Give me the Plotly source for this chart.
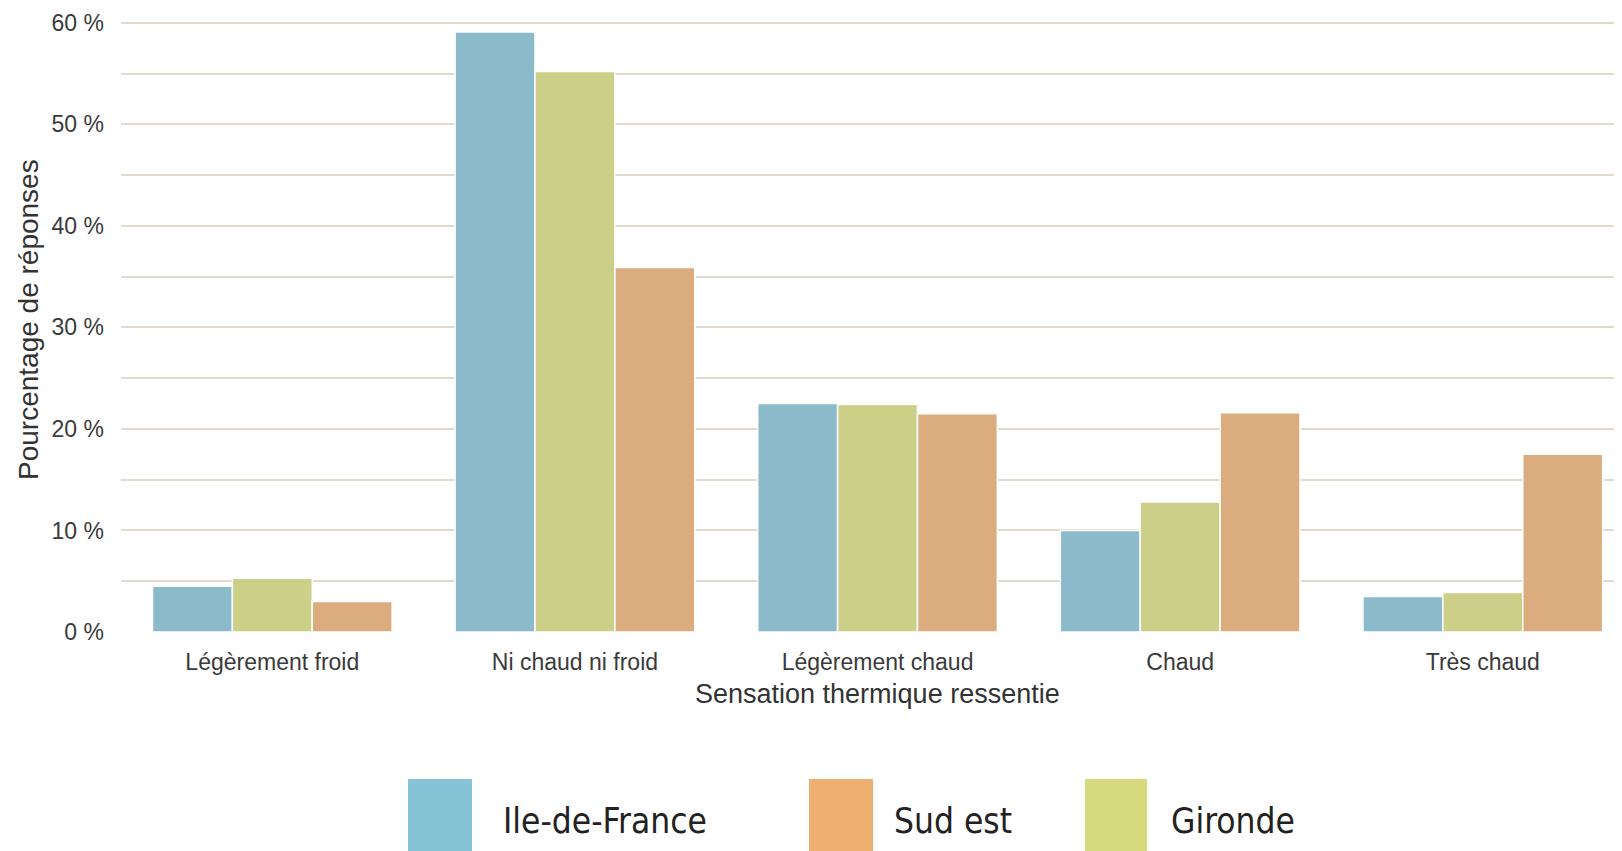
import plotly.graph_objects as go

categories = ["Légèrement froid", "Ni chaud ni froid", "Légèrement chaud", "Chaud", "Très chaud"]
ile_de_france = [4.5, 59.1, 22.5, 10.0, 3.5]
gironde = [5.3, 55.2, 22.4, 12.8, 3.9]
sud_est = [3.0, 35.9, 21.5, 21.6, 17.5]
y_ticks = [0, 10, 20, 30, 40, 50, 60]
y_tick_labels = ["0 %", "10 %", "20 %", "30 %", "40 %", "50 %", "60 %"]

BAR_COLORS = {"Ile-de-France": "#8bbbca", "Gironde": "#cbcf88", "Sud est": "#dbad7e"}
LEGEND_COLORS = {"Ile-de-France": "#84c4d6", "Sud est": "#ecaf6f", "Gironde": "#d6da7d"}

OFF = 8  # page body margin
W, H = 1622 - OFF, 851 - OFF
# plot area in screen pixels (reference)
L, R, T, B = 121, 1622, 20, 632
YMAX = 60 * (B - T) / (B - 22.8)


def px(x):
    return (x - L) / (R - L)


def py(y):
    return (B - y) / (B - T)


fig = go.Figure()
for name, vals in [("Ile-de-France", ile_de_france), ("Gironde", gironde), ("Sud est", sud_est)]:
    fig.add_trace(go.Bar(
        x=categories, y=vals, name=name,
        marker=dict(color=BAR_COLORS[name], line=dict(color="white", width=1.5)),
        showlegend=False,
    ))

tick_font = dict(family="Liberation Sans, Arial", size=23, color="#3a3a3a")
xtitle_font = dict(family="Liberation Sans, Arial", size=27, color="#333333")
ytitle_font = dict(family="Liberation Sans, Arial", size=28, color="#333333")

fig.update_layout(
    width=W, height=H,
    margin=dict(l=L - OFF, r=(W + OFF) - R, t=T - OFF, b=(H + OFF) - B, autoexpand=False),
    paper_bgcolor="white", plot_bgcolor="white",
    barmode="group", bargap=0.208, bargroupgap=0,
    xaxis=dict(
        range=[-0.5, 4.46], showgrid=False, zeroline=False, showline=False,
        ticks="", tickfont=tick_font, ticklabelstandoff=14, automargin=False,
    ),
    yaxis=dict(
        range=[0, YMAX], tickvals=y_ticks, ticktext=y_tick_labels,
        showgrid=True, gridcolor="#e2dacd", gridwidth=2,
        minor=dict(dtick=5, tick0=0, showgrid=True, gridcolor="#e2dacd", gridwidth=2),
        zeroline=False, showline=False, ticks="",
        tickfont=tick_font, ticklabelstandoff=16, automargin=False,
    ),
)

# Axis titles
fig.add_annotation(text="Sensation thermique ressentie", xref="paper", yref="paper",
                   x=px(877), y=py(694), showarrow=False, font=xtitle_font,
                   xanchor="center", yanchor="middle")
fig.add_annotation(text="Pourcentage de réponses", xref="paper", yref="paper",
                   x=px(28), y=py(320), showarrow=False, font=ytitle_font, textangle=-90,
                   xanchor="center", yanchor="middle")

# Custom legend below the chart
legend_font = dict(family="DejaVu Sans Condensed, DejaVu Sans", size=35, color="#222222")
legend_items = [("Ile-de-France", 408, 472, 501), ("Sud est", 809, 873, 892), ("Gironde", 1085, 1147, 1169)]
for name, x0, x1, tx in legend_items:
    fig.add_shape(type="rect", xref="paper", yref="paper",
                  x0=px(x0), x1=px(x1), y0=py(779), y1=py(870),
                  fillcolor=LEGEND_COLORS[name], line=dict(width=0), layer="above")
    fig.add_annotation(text=name, xref="paper", yref="paper", x=px(tx), y=py(821),
                       showarrow=False, font=legend_font, xanchor="left", yanchor="middle")

fig.write_html("out.html")
